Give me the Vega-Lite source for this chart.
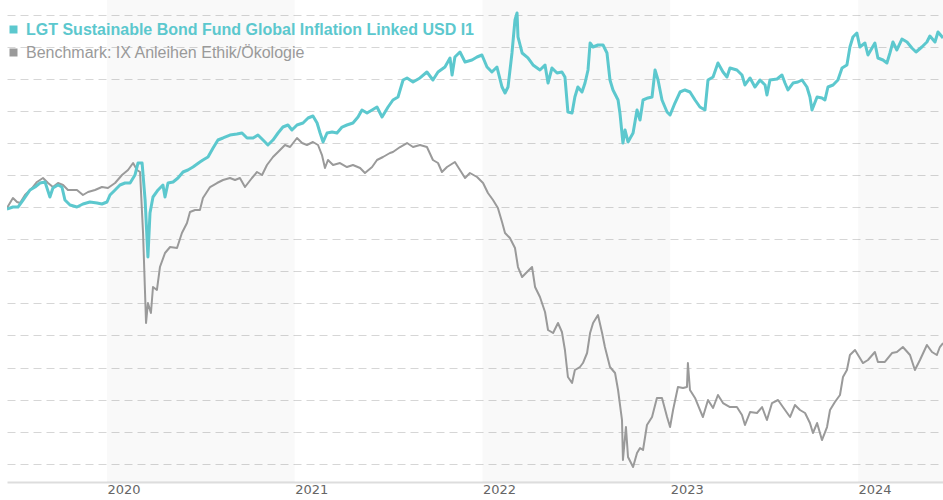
{
  "$schema": "https://vega.github.io/schema/vega-lite/v6.json",
  "width": 936,
  "height": 482,
  "autosize": {"type": "none"},
  "padding": {"left": 7, "top": 0, "right": 0, "bottom": 18},
  "background": "white",
  "config": {"view": {"stroke": null}},
  "datasets": {
    "bands": [{"start": 2020, "end": 2021}, {"start": 2022, "end": 2023}, {"start": 2024, "end": 2025}],
    "fund": [
      {"t":2019.467,"v":79.53},{"t":2019.499,"v":80.15},{"t":2019.526,"v":80.15},{"t":2019.553,"v":82.34},{"t":2019.590,"v":85.47},{"t":2019.617,"v":86.40},{"t":2019.643,"v":87.65},{"t":2019.670,"v":87.97},{"t":2019.696,"v":83.28},{"t":2019.712,"v":86.09},{"t":2019.739,"v":87.03},{"t":2019.760,"v":86.40},{"t":2019.776,"v":82.34},{"t":2019.803,"v":80.78},{"t":2019.840,"v":80.15},{"t":2019.872,"v":81.09},{"t":2019.909,"v":81.72},{"t":2019.947,"v":81.40},{"t":2019.973,"v":81.09},{"t":2020.000,"v":81.72},{"t":2020.016,"v":83.90},{"t":2020.043,"v":85.47},{"t":2020.069,"v":87.03},{"t":2020.096,"v":87.65},{"t":2020.123,"v":87.65},{"t":2020.149,"v":90.15},{"t":2020.165,"v":93.90},{"t":2020.187,"v":93.90},{"t":2020.203,"v":82.34},{"t":2020.218,"v":64.53},{"t":2020.229,"v":78.28},{"t":2020.245,"v":83.28},{"t":2020.272,"v":85.47},{"t":2020.298,"v":87.03},{"t":2020.309,"v":83.28},{"t":2020.325,"v":87.65},{"t":2020.352,"v":87.97},{"t":2020.378,"v":89.22},{"t":2020.405,"v":91.09},{"t":2020.431,"v":91.72},{"t":2020.458,"v":92.65},{"t":2020.495,"v":94.22},{"t":2020.511,"v":94.84},{"t":2020.538,"v":95.78},{"t":2020.565,"v":98.59},{"t":2020.591,"v":101.09},{"t":2020.618,"v":101.72},{"t":2020.655,"v":102.65},{"t":2020.692,"v":102.97},{"t":2020.719,"v":103.28},{"t":2020.746,"v":101.72},{"t":2020.778,"v":101.72},{"t":2020.804,"v":102.65},{"t":2020.831,"v":101.09},{"t":2020.857,"v":99.53},{"t":2020.884,"v":101.09},{"t":2020.911,"v":103.28},{"t":2020.937,"v":105.15},{"t":2020.964,"v":105.78},{"t":2020.985,"v":104.22},{"t":2021.012,"v":105.78},{"t":2021.044,"v":106.40},{"t":2021.071,"v":107.97},{"t":2021.097,"v":108.59},{"t":2021.119,"v":106.40},{"t":2021.135,"v":103.28},{"t":2021.151,"v":100.47},{"t":2021.172,"v":103.28},{"t":2021.199,"v":103.59},{"t":2021.225,"v":103.28},{"t":2021.252,"v":105.15},{"t":2021.278,"v":105.78},{"t":2021.310,"v":106.40},{"t":2021.337,"v":108.28},{"t":2021.358,"v":110.47},{"t":2021.385,"v":109.53},{"t":2021.412,"v":110.47},{"t":2021.438,"v":111.40},{"t":2021.465,"v":108.28},{"t":2021.481,"v":109.84},{"t":2021.497,"v":111.40},{"t":2021.523,"v":113.59},{"t":2021.550,"v":114.53},{"t":2021.577,"v":119.84},{"t":2021.598,"v":120.47},{"t":2021.630,"v":119.22},{"t":2021.667,"v":120.47},{"t":2021.704,"v":122.34},{"t":2021.736,"v":119.84},{"t":2021.763,"v":122.34},{"t":2021.800,"v":123.90},{"t":2021.827,"v":126.72},{"t":2021.838,"v":121.40},{"t":2021.853,"v":127.03},{"t":2021.880,"v":128.59},{"t":2021.907,"v":125.47},{"t":2021.944,"v":126.09},{"t":2021.971,"v":127.03},{"t":2021.997,"v":127.65},{"t":2022.024,"v":123.90},{"t":2022.050,"v":122.34},{"t":2022.077,"v":123.90},{"t":2022.104,"v":117.65},{"t":2022.120,"v":115.78},{"t":2022.136,"v":117.65},{"t":2022.157,"v":128.28},{"t":2022.173,"v":138.59},{"t":2022.184,"v":140.78},{"t":2022.189,"v":133.28},{"t":2022.211,"v":128.28},{"t":2022.242,"v":126.72},{"t":2022.269,"v":124.53},{"t":2022.306,"v":122.97},{"t":2022.333,"v":124.53},{"t":2022.349,"v":118.90},{"t":2022.370,"v":123.59},{"t":2022.397,"v":122.03},{"t":2022.423,"v":122.34},{"t":2022.439,"v":120.78},{"t":2022.455,"v":109.84},{"t":2022.477,"v":109.53},{"t":2022.492,"v":114.53},{"t":2022.508,"v":117.65},{"t":2022.530,"v":116.09},{"t":2022.546,"v":118.90},{"t":2022.562,"v":122.97},{"t":2022.573,"v":131.40},{"t":2022.589,"v":130.15},{"t":2022.615,"v":130.78},{"t":2022.642,"v":130.78},{"t":2022.663,"v":128.28},{"t":2022.679,"v":119.84},{"t":2022.695,"v":116.72},{"t":2022.722,"v":113.59},{"t":2022.732,"v":109.53},{"t":2022.748,"v":100.15},{"t":2022.759,"v":104.22},{"t":2022.775,"v":100.47},{"t":2022.802,"v":103.28},{"t":2022.823,"v":110.47},{"t":2022.839,"v":107.34},{"t":2022.855,"v":113.59},{"t":2022.881,"v":114.22},{"t":2022.903,"v":114.53},{"t":2022.919,"v":122.97},{"t":2022.935,"v":119.84},{"t":2022.956,"v":113.59},{"t":2022.983,"v":109.84},{"t":2022.999,"v":108.90},{"t":2023.025,"v":112.65},{"t":2023.052,"v":116.09},{"t":2023.078,"v":116.72},{"t":2023.105,"v":116.09},{"t":2023.132,"v":113.59},{"t":2023.158,"v":111.40},{"t":2023.185,"v":110.47},{"t":2023.201,"v":119.84},{"t":2023.228,"v":120.78},{"t":2023.254,"v":125.15},{"t":2023.281,"v":122.34},{"t":2023.302,"v":120.78},{"t":2023.318,"v":123.59},{"t":2023.355,"v":122.97},{"t":2023.382,"v":121.40},{"t":2023.398,"v":118.28},{"t":2023.425,"v":120.47},{"t":2023.451,"v":117.65},{"t":2023.478,"v":119.84},{"t":2023.505,"v":118.28},{"t":2023.515,"v":115.15},{"t":2023.531,"v":119.84},{"t":2023.569,"v":120.15},{"t":2023.595,"v":121.40},{"t":2023.611,"v":118.90},{"t":2023.627,"v":116.72},{"t":2023.654,"v":118.90},{"t":2023.680,"v":119.22},{"t":2023.702,"v":119.84},{"t":2023.728,"v":117.65},{"t":2023.744,"v":114.53},{"t":2023.755,"v":110.47},{"t":2023.782,"v":114.53},{"t":2023.808,"v":114.22},{"t":2023.824,"v":113.59},{"t":2023.840,"v":117.65},{"t":2023.867,"v":118.28},{"t":2023.893,"v":119.84},{"t":2023.915,"v":123.59},{"t":2023.941,"v":124.53},{"t":2023.957,"v":130.15},{"t":2023.973,"v":133.28},{"t":2023.994,"v":134.53},{"t":2024.010,"v":130.15},{"t":2024.037,"v":131.40},{"t":2024.053,"v":127.65},{"t":2024.090,"v":131.40},{"t":2024.106,"v":126.72},{"t":2024.133,"v":126.09},{"t":2024.154,"v":125.15},{"t":2024.170,"v":128.28},{"t":2024.186,"v":131.72},{"t":2024.207,"v":129.22},{"t":2024.234,"v":132.65},{"t":2024.261,"v":131.72},{"t":2024.287,"v":129.84},{"t":2024.309,"v":128.59},{"t":2024.340,"v":130.15},{"t":2024.367,"v":131.72},{"t":2024.383,"v":133.59},{"t":2024.410,"v":131.72},{"t":2024.426,"v":134.84},{"t":2024.453,"v":132.97}
    ],
    "bench": [
      {"t":2019.467,"v":79.84},{"t":2019.499,"v":82.97},{"t":2019.521,"v":81.72},{"t":2019.537,"v":81.40},{"t":2019.563,"v":83.90},{"t":2019.601,"v":86.09},{"t":2019.627,"v":87.97},{"t":2019.659,"v":89.22},{"t":2019.686,"v":87.65},{"t":2019.712,"v":86.40},{"t":2019.739,"v":87.65},{"t":2019.766,"v":87.03},{"t":2019.792,"v":85.47},{"t":2019.840,"v":85.47},{"t":2019.872,"v":83.90},{"t":2019.899,"v":84.84},{"t":2019.936,"v":85.47},{"t":2019.973,"v":86.40},{"t":2020.005,"v":86.09},{"t":2020.043,"v":87.65},{"t":2020.080,"v":90.15},{"t":2020.112,"v":91.72},{"t":2020.139,"v":93.90},{"t":2020.160,"v":91.72},{"t":2020.176,"v":91.09},{"t":2020.192,"v":72.03},{"t":2020.208,"v":43.90},{"t":2020.218,"v":50.15},{"t":2020.234,"v":47.03},{"t":2020.245,"v":55.15},{"t":2020.266,"v":54.22},{"t":2020.282,"v":61.40},{"t":2020.309,"v":65.78},{"t":2020.336,"v":67.65},{"t":2020.373,"v":67.34},{"t":2020.399,"v":72.03},{"t":2020.426,"v":75.15},{"t":2020.442,"v":78.59},{"t":2020.469,"v":79.22},{"t":2020.495,"v":79.22},{"t":2020.511,"v":82.97},{"t":2020.549,"v":86.40},{"t":2020.586,"v":87.65},{"t":2020.618,"v":88.59},{"t":2020.655,"v":89.22},{"t":2020.682,"v":88.59},{"t":2020.708,"v":89.22},{"t":2020.735,"v":86.40},{"t":2020.772,"v":89.22},{"t":2020.799,"v":91.09},{"t":2020.826,"v":90.15},{"t":2020.852,"v":93.28},{"t":2020.884,"v":95.78},{"t":2020.911,"v":97.34},{"t":2020.948,"v":99.53},{"t":2020.975,"v":98.90},{"t":2021.012,"v":101.72},{"t":2021.039,"v":100.15},{"t":2021.065,"v":99.53},{"t":2021.097,"v":100.47},{"t":2021.124,"v":99.53},{"t":2021.145,"v":96.40},{"t":2021.161,"v":92.34},{"t":2021.177,"v":94.84},{"t":2021.204,"v":93.28},{"t":2021.241,"v":93.90},{"t":2021.278,"v":92.65},{"t":2021.310,"v":93.28},{"t":2021.348,"v":92.34},{"t":2021.374,"v":90.78},{"t":2021.412,"v":92.65},{"t":2021.438,"v":94.84},{"t":2021.470,"v":95.78},{"t":2021.507,"v":97.03},{"t":2021.523,"v":97.34},{"t":2021.561,"v":98.90},{"t":2021.598,"v":100.15},{"t":2021.630,"v":98.90},{"t":2021.667,"v":99.53},{"t":2021.704,"v":98.90},{"t":2021.736,"v":94.84},{"t":2021.763,"v":93.90},{"t":2021.784,"v":91.09},{"t":2021.811,"v":92.65},{"t":2021.853,"v":94.22},{"t":2021.880,"v":91.72},{"t":2021.907,"v":89.22},{"t":2021.933,"v":90.78},{"t":2021.971,"v":89.53},{"t":2022.003,"v":87.65},{"t":2022.029,"v":84.53},{"t":2022.056,"v":82.34},{"t":2022.082,"v":79.84},{"t":2022.104,"v":75.47},{"t":2022.120,"v":72.03},{"t":2022.146,"v":70.47},{"t":2022.173,"v":67.34},{"t":2022.189,"v":61.40},{"t":2022.211,"v":58.28},{"t":2022.237,"v":59.84},{"t":2022.264,"v":61.40},{"t":2022.280,"v":55.15},{"t":2022.306,"v":52.03},{"t":2022.333,"v":47.34},{"t":2022.349,"v":41.72},{"t":2022.376,"v":40.78},{"t":2022.402,"v":43.90},{"t":2022.423,"v":41.09},{"t":2022.439,"v":35.47},{"t":2022.455,"v":27.03},{"t":2022.477,"v":25.15},{"t":2022.492,"v":29.22},{"t":2022.519,"v":30.15},{"t":2022.535,"v":31.40},{"t":2022.557,"v":34.53},{"t":2022.573,"v":40.78},{"t":2022.589,"v":43.90},{"t":2022.615,"v":46.40},{"t":2022.637,"v":40.78},{"t":2022.652,"v":36.40},{"t":2022.679,"v":30.15},{"t":2022.706,"v":28.28},{"t":2022.722,"v":22.97},{"t":2022.743,"v":13.59},{"t":2022.748,"v":1.09},{"t":2022.764,"v":11.40},{"t":2022.775,"v":2.03},{"t":2022.802,"v":-1.09},{"t":2022.823,"v":3.28},{"t":2022.839,"v":4.84},{"t":2022.855,"v":4.22},{"t":2022.876,"v":12.03},{"t":2022.903,"v":14.53},{"t":2022.929,"v":20.47},{"t":2022.956,"v":20.47},{"t":2022.983,"v":14.53},{"t":2022.999,"v":11.40},{"t":2023.015,"v":16.72},{"t":2023.041,"v":23.90},{"t":2023.068,"v":23.59},{"t":2023.089,"v":23.90},{"t":2023.094,"v":31.40},{"t":2023.105,"v":22.97},{"t":2023.132,"v":20.47},{"t":2023.158,"v":16.72},{"t":2023.174,"v":14.53},{"t":2023.201,"v":19.84},{"t":2023.228,"v":17.34},{"t":2023.254,"v":21.40},{"t":2023.281,"v":18.90},{"t":2023.318,"v":17.65},{"t":2023.355,"v":17.65},{"t":2023.382,"v":15.15},{"t":2023.398,"v":12.03},{"t":2023.425,"v":16.09},{"t":2023.462,"v":15.78},{"t":2023.489,"v":17.65},{"t":2023.515,"v":13.59},{"t":2023.542,"v":18.90},{"t":2023.574,"v":19.84},{"t":2023.600,"v":17.65},{"t":2023.638,"v":14.53},{"t":2023.664,"v":18.28},{"t":2023.691,"v":16.72},{"t":2023.718,"v":15.78},{"t":2023.744,"v":12.65},{"t":2023.760,"v":9.53},{"t":2023.782,"v":12.65},{"t":2023.808,"v":7.34},{"t":2023.835,"v":11.40},{"t":2023.851,"v":16.72},{"t":2023.877,"v":19.22},{"t":2023.904,"v":21.40},{"t":2023.920,"v":27.03},{"t":2023.941,"v":29.22},{"t":2023.957,"v":33.90},{"t":2023.984,"v":35.47},{"t":2024.010,"v":32.97},{"t":2024.026,"v":31.40},{"t":2024.053,"v":32.34},{"t":2024.090,"v":34.84},{"t":2024.106,"v":31.72},{"t":2024.143,"v":31.72},{"t":2024.181,"v":34.53},{"t":2024.207,"v":34.84},{"t":2024.239,"v":36.40},{"t":2024.277,"v":33.90},{"t":2024.303,"v":29.22},{"t":2024.330,"v":32.34},{"t":2024.367,"v":37.03},{"t":2024.394,"v":34.84},{"t":2024.420,"v":33.90},{"t":2024.436,"v":36.40},{"t":2024.453,"v":37.65}
    ]
  },
  "layer": [
    {
      "data": {"name": "bands"},
      "mark": {"type": "rect", "fill": "#000000", "opacity": 0.025, "clip": true},
      "encoding": {
        "x": {"field": "start", "type": "quantitative", "scale": {"domain": [2019.4674, 2024.4527], "nice": false, "zero": false},
          "axis": {"values": [2020, 2021, 2022, 2023, 2024], "format": "d", "title": null, "grid": false, "ticks": false, "domain": true, "domainColor": "#dddddd", "domainWidth": 2, "labelAlign": "left", "labelPadding": 1, "labelFont": "DejaVu Sans", "labelFontSize": 13, "labelColor": "#666666", "labelFlush": false}},
        "x2": {"field": "end"},
        "y": {"value": 0},
        "y2": {"value": 482}
      }
    },
    {
      "data": {"name": "bench"},
      "mark": {"type": "line", "strokeWidth": 2, "strokeJoin": "round", "clip": true},
      "encoding": {
        "x": {"field": "t", "type": "quantitative"},
        "y": {"field": "v", "type": "quantitative", "scale": {"domain": [-5.78, 144.84], "nice": false, "zero": false},
          "axis": {"values": [0, 10, 20, 30, 40, 50, 60, 70, 80, 90, 100, 110, 120, 130, 140], "tickCount": 15, "labels": false, "ticks": false, "domain": false, "title": null, "grid": true, "gridColor": "#d6d6d6", "gridDash": [8, 5], "gridWidth": 1}},
        "color": {"datum": "Benchmark: IX Anleihen Ethik/Ökologie", "type": "nominal"}
      }
    },
    {
      "data": {"name": "fund"},
      "mark": {"type": "line", "strokeWidth": 3, "strokeJoin": "round", "clip": true},
      "encoding": {
        "x": {"field": "t", "type": "quantitative"},
        "y": {"field": "v", "type": "quantitative",
          "axis": {"values": [0, 10, 20, 30, 40, 50, 60, 70, 80, 90, 100, 110, 120, 130, 140], "tickCount": 15, "labels": false, "ticks": false, "domain": false, "title": null, "grid": true, "gridColor": "#d6d6d6", "gridDash": [8, 5], "gridWidth": 1}},
        "color": {"datum": "LGT Sustainable Bond Fund Global Inflation Linked USD I1", "type": "nominal",
          "scale": {"domain": ["LGT Sustainable Bond Fund Global Inflation Linked USD I1", "Benchmark: IX Anleihen Ethik/Ökologie"], "range": ["#5cc8ce", "#9a9a9a"]},
          "legend": {"title": null, "orient": "none", "legendX": -1.5, "legendY": 21.5, "padding": 0, "symbolType": "square", "symbolSize": 64, "symbolStrokeWidth": 0, "labelFont": "Liberation Sans", "labelFontSize": 16, "labelLimit": 700, "labelOffset": 4.5, "rowPadding": 7,
            "encode": {
              "symbols": {"update": {"fill": {"scale": "color", "field": "value"}, "stroke": {"value": "transparent"}, "opacity": {"value": 1}}},
              "labels": {"update": {"fill": {"scale": "color", "field": "value"}, "fontWeight": {"signal": "datum.index === 0 ? 'bold' : 'normal'"}}}
            }}}
      }
    }
  ]
}
